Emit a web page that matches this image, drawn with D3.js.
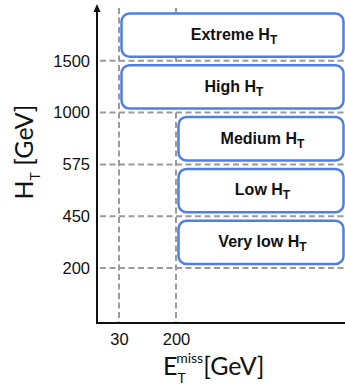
<!DOCTYPE html>
<html>
<head>
<meta charset="utf-8">
<script src="https://cdn.jsdelivr.net/npm/d3@7"></script>
<style>
  body { margin: 0; background: #fff; }
  svg { display: block; }
</style>
</head>
<body>
<div id="chart"></div>
<script>
// tick labels on both axes (ordinal, evenly spaced in the picture)
var htTicks = ["200", "450", "575", "1000", "1500"];
var metTicks = ["30", "200"];

// search regions: name, HT lower/upper edge, MET lower edge
var regionNames = ["Very low", "Low", "Medium", "High", "Extreme"];
var regionHtFrom = ["200", "450", "575", "1000", "1500"];
var regionHtTo = ["450", "575", "1000", "1500", "top"];
var regionMetFrom = ["200", "200", "200", "30", "30"];

var W = 345, H = 386;
var x0 = 97, yAxisBottom = 323;

var svg = d3.select("#chart").append("svg")
    .attr("width", W).attr("height", H);

// scales
var y = d3.scalePoint()
    .domain(htTicks.concat(["top"]))
    .range([268, 9]);
var x = d3.scalePoint()
    .domain(metTicks)
    .range([119, 176]);

var grey = "#9a9a9a", blue = "#4d7fe6";

// dashed grid lines
svg.append("g").selectAll("line.h")
    .data(htTicks)
    .enter().append("line")
        .attr("x1", x0 + 3).attr("x2", W)
        .attr("y1", function(d) { return y(d); })
        .attr("y2", function(d) { return y(d); })
        .attr("stroke", grey).attr("stroke-width", 2)
        .attr("stroke-dasharray", "6,3.5");
svg.append("g").selectAll("line.v")
    .data(metTicks)
    .enter().append("line")
        .attr("x1", function(d) { return x(d); })
        .attr("x2", function(d) { return x(d); })
        .attr("y1", 8).attr("y2", yAxisBottom)
        .attr("stroke", grey).attr("stroke-width", 2)
        .attr("stroke-dasharray", "6,3.5");

// region boxes
var boxes = svg.append("g").selectAll("g.box")
    .data(regionNames)
    .enter().append("g");
boxes.append("rect")
    .attr("x", function(d, i) { return x(regionMetFrom[i]) + 2.5; })
    .attr("y", function(d, i) { return y(regionHtTo[i]) + 4.5; })
    .attr("width", function(d, i) { return W - 1.5 - x(regionMetFrom[i]) - 2.5; })
    .attr("height", function(d, i) { return y(regionHtFrom[i]) - y(regionHtTo[i]) - 8.5; })
    .attr("rx", 8).attr("ry", 8)
    .attr("fill", "#fff")
    .attr("stroke", blue).attr("stroke-width", 2.5);
var lbl = boxes.append("text")
    .attr("x", function(d, i) { return (x(regionMetFrom[i]) + W) / 2 + 2; })
    .attr("y", function(d, i) { return (y(regionHtFrom[i]) + y(regionHtTo[i])) / 2 + 5; })
    .attr("text-anchor", "middle")
    .style("font-family", "'Liberation Sans', Arial, sans-serif")
    .style("font-weight", "bold")
    .style("font-size", "16px")
    .attr("fill", "#111");
lbl.append("tspan").text(function(d) { return d + " H"; });
lbl.append("tspan").attr("dy", 4).style("font-size", "12px").text("T");

// axes
var yAxis = d3.axisLeft(y).tickValues(htTicks).tickSize(0).tickPadding(7);
var gy = svg.append("g").attr("transform", "translate(" + x0 + ",0)").call(yAxis);
gy.select(".domain").remove();
gy.selectAll("text")
    .style("font-family", "'Liberation Sans', Arial, sans-serif")
    .style("font-size", "16.5px").attr("fill", "#111");

var xAxis = d3.axisBottom(x).tickSize(0).tickPadding(10);
var gx = svg.append("g").attr("transform", "translate(0," + yAxisBottom + ")").call(xAxis);
gx.select(".domain").remove();
gx.selectAll("text")
    .style("font-family", "'Liberation Sans', Arial, sans-serif")
    .style("font-size", "16.5px").attr("fill", "#111");

// axis lines + arrow
svg.append("line")
    .attr("x1", x0).attr("x2", W).attr("y1", yAxisBottom).attr("y2", yAxisBottom)
    .attr("stroke", "#111").attr("stroke-width", 2);
svg.append("line")
    .attr("x1", x0).attr("x2", x0).attr("y1", yAxisBottom + 1).attr("y2", 9)
    .attr("stroke", "#111").attr("stroke-width", 2);
svg.append("path")
    .attr("d", "M" + (x0 - 3.5) + ",12 L" + x0 + ",4 L" + (x0 + 3.5) + ",12 Z")
    .attr("fill", "#111");

// axis titles
var ty = svg.append("text")
    .attr("transform", "translate(33,152) rotate(-90)")
    .attr("text-anchor", "middle")
    .style("font-family", "Lato, 'Open Sans', sans-serif")
    .style("font-size", "25px").attr("fill", "#111");
ty.append("tspan").text("H");
ty.append("tspan").attr("dy", 7).style("font-size", "14px").text("T");
ty.append("tspan").attr("dy", -7).text(" [GeV]");

var tx = svg.append("text")
    .attr("x", 163).attr("y", 375)
    .style("font-family", "Lato, 'Open Sans', sans-serif")
    .style("font-size", "25px").attr("fill", "#111");
tx.append("tspan").text("E");
tx.append("tspan").attr("dy", 8).style("font-size", "14px").text("T");
tx.append("tspan").attr("dx", -8).attr("dy", -20).style("font-size", "14px").text("miss");
tx.append("tspan").attr("dy", 12).text("[GeV]");
</script>
</body>
</html>
